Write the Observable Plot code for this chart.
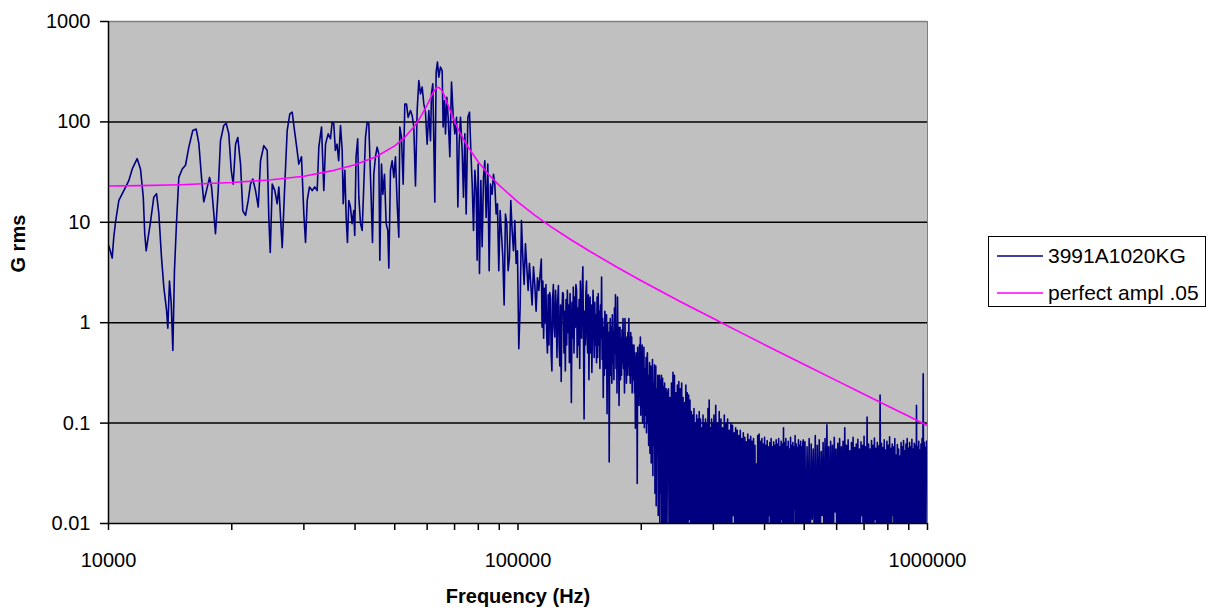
<!DOCTYPE html>
<html><head><meta charset="utf-8">
<script src="https://cdn.jsdelivr.net/npm/d3@7"></script>
<script src="https://cdn.jsdelivr.net/npm/@observablehq/plot@0.6"></script>
<style>
body{margin:0;background:#fff;font-family:Arial,"Liberation Sans",sans-serif;}
#wrap{position:relative;width:1211px;height:610px;overflow:hidden;}
#legend{position:absolute;left:988px;top:236px;width:218px;height:71px;border:1.5px solid #000;box-sizing:border-box;background:#fff;font-size:21px;color:#000;}
#legend .row{position:absolute;left:0;height:24px;}
#legend svg{position:absolute;left:8px;top:10px;}
#legend span{position:absolute;left:59px;top:0;white-space:nowrap;line-height:24px;}
</style></head><body><div id="wrap"></div>
<script>
// ---------- data ----------
const seriesNames = ["3991A1020KG", "perfect ampl .05"];
const seriesColors = ["#000080", "#ff00ff"];

// theoretical curve (kHz, G rms)
const pinkCurve = [[10,23],[12,23.2],[15,23.7],[20,24.9],[25,26.5],[30,28.8],[35,32.5],[40,37.5],[45,45],[50,57.7],[53,70.6],[56,91.5],[58,114],[60,148],[61,170],[62,195],[63,215],[63.5,220],[64,221],[65,209],[66,185],[67,158],[68,135],[70,101],[72,79],[75,58.6],[80,39.8],[85,29.6],[90,23.3],[100,15.9],[110,11.7],[120,9.1],[135,6.67],[150,5.12],[175,3.55],[200,2.62],[250,1.61],[300,1.10],[350,0.796],[400,0.604],[500,0.383],[600,0.265],[700,0.194],[800,0.148],[900,0.117],[1000,0.0946]];

// measured spectrum, low band traced (kHz, G rms)
const blueTrace = [[10.0,5.9],[10.1,5.2],[10.21,4.4],[10.30,7.1],[10.40,10],[10.60,16.5],[10.90,20.7],[11.21,26],[11.43,34],[11.75,43],[11.97,34],[12.16,17.8],[12.26,7.7],[12.36,5.2],[12.50,7.1],[12.66,10],[12.90,17.8],[13.10,19.3],[13.27,12.3],[13.47,4.5],[13.65,2.25],[13.86,1.33],[13.96,0.88],[14.09,2.6],[14.23,1.55],[14.36,0.53],[14.49,3.3],[14.66,10],[14.85,28],[15.14,34],[15.42,37],[15.71,56],[16.06,82],[16.37,85],[16.62,61],[16.87,28],[17.09,16],[17.35,20.7],[17.65,28],[17.85,22.5],[18.08,12.2],[18.25,7.7],[18.53,20.7],[18.77,65],[19.12,92],[19.38,97],[19.67,76],[19.94,33],[20.16,24],[20.43,60],[20.69,70],[21.01,38],[21.28,13],[21.61,11.7],[21.94,16.5],[22.22,24],[22.51,27],[22.86,20.7],[23.21,14.2],[23.51,41],[23.95,58],[24.41,52],[24.63,11.2],[24.83,5.0],[25.11,24],[25.48,20.7],[25.82,15.3],[26.06,22.5],[26.31,11.2],[26.56,5.6],[26.91,20.7],[27.31,82],[27.72,120],[28.09,125],[28.46,82],[28.78,58],[29.16,38],[29.60,45],[29.99,12.2],[30.28,6.3],[30.57,16.5],[30.96,22.5],[31.44,20.7],[31.90,22.5],[32.33,20.7],[32.63,56],[33.13,89],[33.56,20.7],
[33.88,60],[34.39,76],[34.84,68],[35.16,99],[35.49,96],[35.81,52],[36.15,60],[36.48,41],[36.86,92],[37.21,52],[37.42,15.3],[37.77,33],[38.05,11.2],[38.33,6.3],[38.62,16.5],[38.98,14.2],[39.34,9.7],[39.71,13.1],[39.93,7.4],[40.23,45],[40.60,68],[40.86,17.8],[41.25,9.7],[41.63,8.3],[42.03,24],[42.42,70],[42.82,99],[43.22,96],[43.47,45],[43.79,17.8],[44.12,6.3],[44.45,30],[44.87,45],[45.29,56],[45.72,48],[45.98,4.2],[46.41,38],[46.76,19],[47.20,30],[47.65,9.7],[48.09,8.3],[48.37,3.5],[48.82,33],[49.28,41],[49.75,28],[50.21,45],[50.69,15.3],[51.16,7.1],[51.45,89],[51.94,70],[52.43,24],[52.92,151],[53.42,151],[53.92,111],[54.63,130],[55.14,116],[55.66,89],[56.19,23],[56.72,130],[57.25,258],[57.79,190],[58.34,222],[58.89,151],[59.44,125],[60.00,60],[60.57,130],[61.14,65],[61.48,190],[61.94,240],[62.64,15.9],[63.11,313],[63.58,394],[64.06,279],[64.67,351],[65.28,325],[65.65,89],[66.14,163],[66.52,76],[67.02,176],[67.52,111],[68.16,45],[68.81,249],[69.46,116],[70.11,76],[70.78,111],[71.31,14.2],[71.83,60],[72.37,111],[73.05,52],[73.60,17.8],[74.16,76],[74.72,12.1],[75.43,111],[76.14,125],[76.71,52],[77.29,24],[77.87,8.3],[78.46,33],[79.03,21],[79.47,4.2],[79.92,38],[80.52,3.1],[81.13,26],[81.74,5.7],[82.36,28],[82.98,41],[83.60,11.2],[84.39,38],[85.03,3.3],[85.67,24],[86.46,19],[87.11,30],[87.77,24],[88.43,12.1],[89.09,15.3],[89.76,3.3],[90.44,13.1],[91.12,7.7],[91.81,4.5],[92.50,1.5],[93.19,12.1],[93.90,9.7],[94.60,3.3],[95.31,4.5],[96.03,16.5],[96.75,8.3],[97.48,5.2],[98.22,10.4],[98.95,3.9],[99.70,5.2],[100.45,0.55],[101.20,1.4],[101.96,10.4],[102.73,4.5],[103.51,2.4],[104.28,6.1],[105.07,3.6],[105.86,2.1],[106.65,3.9],[107.45,2.4],[108.26,1.5],[109.08,3.6],[109.90,2.4],[110.72,1.3],[111.56,2.8],[112.40,2.1]];

// measured spectrum, evenly spaced FFT lines (start kHz, step kHz, values)
const band1Start = 114, band1Step = 0.5;
const band1Vals = [
  4.3,0.9,2.6,0.7,2.2,1.0,2.4,0.78,0.5,1.9,0.6,2.0,1.8,0.5,0.33,1.7,2.4,0.9,0.72,2.1,
  1.4,0.45,1.6,2.35,0.6,0.37,1.5,0.26,1.2,2.0,1.95,0.5,1.3,0.33,1.7,0.6,2.1,0.8,1.5,0.4,
  1.95,0.9,0.16,1.6,0.7,2.27,0.5,1.8,0.9,2.4,2.1,0.45,1.4,0.6,1.7,0.35,2.6,1.0,0.7,2.2,
  3.6,0.8,0.11,1.3,0.6,2.0,2.6,0.7,0.5,1.9,0.27,1.2,1.8,0.5,1.5,0.32,0.9,2.1,1.1,0.45,
  1.6,0.6,1.2,0.4,1.8,0.45,1.95,0.6,1.3,0.35,1.5,0.7,2.85,0.43,1.1,0.18,0.9,0.3,1.3,0.84,
  0.35,1.2,0.124,1.0,0.4,0.8,0.041,0.67,1.1,0.3,0.9,0.25,1.2,0.4,0.8,0.27,1.4,0.5,1.9,0.35,
  1.0,0.2,1.8,0.5,0.9,0.15,0.57,0.9,0.27,0.7,0.3,0.85,0.4,1.1,0.35,0.6,0.2,1.1,0.37,0.7,
  0.25,0.72,0.3,0.8,0.37,1.1,0.3,0.7,0.25,0.8,0.3,0.72,0.2,0.6,0.45,0.27,0.6,0.2,0.5,0.089,
  0.45,0.15,0.5,0.025,0.57,0.2,0.45,0.15,0.6,0.25,0.72,0.12,0.5,0.2,0.6,0.1,0.45,0.15,0.57,0.09,
  0.35,0.12,0.23,0.45,0.08,0.4,0.5,0.1,0.3,0.06,0.079,0.4,0.05,0.35,0.37,0.04,0.3,0.08,0.43,0.03,
  0.25,0.06,0.2,0.38,0.02,0.3,0.37,0.015,0.22,0.05,0.068,0.3,0.012,0.25,0.039,0.3,0.009,0.27,0.25,0.02,
  0.3,0.006,0.0125,0.28,0.01,0.23,0.23,0.005,0.25,0.015,0.2,0.004,0.22];
const band2Start = 231, band2Step = 1;
const band2Vals = [
  0.006,0.2,0.22,0.004,0.18,0.008,0.25,0.003,0.32,0.005,
  0.3,0.007,0.2,0.004,0.24,0.009,0.26,0.003,0.22,0.006,
  0.25,0.004,0.18,0.008,0.16,0.003,0.24,0.006,0.2,0.005,
  0.19,0.011,0.17,0.004,0.13,0.007,0.12,0.003,0.14,0.005,
  0.1,0.008,0.12,0.004,0.11,0.006,0.13,0.003,0.11,0.009,
  0.09,0.004,0.12,0.006,0.1,0.003,0.11,0.007,0.1,0.005,
  0.14,0.004,0.17,0.008,0.09,0.003,0.11,0.006,0.1,0.005];
const band3Start = 301, band3Step = 1.5;
const band3Vals = [
  0.12,0.005,0.15,0.008,0.1,0.004,0.13,0.006,0.11,0.003,
  0.09,0.007,0.12,0.004,0.1,0.009,0.11,0.005,0.085,0.003,
  0.1,0.006,0.095,0.012,0.08,0.004,0.09,0.007,0.085,0.005,
  0.075,0.003,0.085,0.008,0.07,0.005,0.08,0.004,0.072,0.006,
  0.065,0.01,0.078,0.004,0.068,0.007,0.074,0.003,0.066,0.005,
  0.07,0.006,0.06,0.004,0.039,0.008,0.075,0.003,0.078,0.005,
  0.066,0.009,0.07,0.004,0.062,0.006,0.072,0.003,0.06,0.007,
  0.067,0.005,0.058,0.012,0.064,0.004,0.07,0.006,0.058,0.003,
  0.065,0.008,0.06,0.005,0.068,0.004,0.062,0.007,0.07,0.003,
  0.058,0.006,0.066,0.011,0.062,0.004,0.09,0.005,0.064,0.003,
  0.07,0.007,0.058,0.004,0.066,0.006,0.055,0.003,0.072,0.008,
  0.06,0.005,0.064,0.004,0.058,0.014,0.075,0.003,0.062,0.006,
  0.057,0.005,0.068,0.004,0.06,0.007,0.066,0.003,0.058,0.006,
  0.063,0.068,0.004];
const band4Start = 502, band4Step = 3;
const band4Vals = [0.065,0.005,0.058,0.008,0.07,0.004,0.062,0.011,0.055,0.006,0.075,0.003,0.06,0.007,0.068,0.005,0.052,0.012,0.064,0.004,0.07,0.006,0.096,0.009,0.058,0.003,0.066,0.007,0.06,0.005,0.072,0.013,0.055,0.004,0.063,0.006,0.07,0.008,0.058,0.003,0.066,0.005,0.09,0.007,0.06,0.004,0.068,0.01,0.053,0.005,0.064,0.003,0.072,0.006,0.057,0.009,0.062,0.004,0.069,0.007,0.055,0.005,0.065,0.012,0.06,0.003,0.074,0.006,0.058,0.004,0.115,0.008,0.062,0.005,0.055,0.003,0.067,0.007,0.06,0.005,0.071,0.011,0.056,0.004,0.064,0.006,0.059,0.003,0.19,0.008,0.063,0.005,0.057,0.004,0.068,0.007,0.054,0.003,0.066,0.006,0.06,0.009,0.073,0.004,0.056,0.005,0.062,0.012,0.058,0.003,0.07,0.006,0.048,0.004,0.061,0.007,0.055,0.005,0.047,0.003,0.064,0.008,0.058,0.004,0.067,0.006,0.053,0.005,0.062,0.01,0.07,0.003,0.056,0.006,0.064,0.004,0.058,0.007,0.069,0.005,0.055,0.003,0.063,0.009,0.06,0.004,0.15,0.006,0.058,0.005,0.066,0.003,0.054,0.007,0.062,0.004,0.07,0.006,0.31,0.005,0.064,0.003,0.057,0.007,0.066,0.05];

// axes
const xMajorTicks = [1e4, 1e5, 1e6];
const xMinorTicks = [2e4,3e4,4e4,5e4,6e4,7e4,8e4,9e4,2e5,3e5,4e5,5e5,6e5,7e5,8e5,9e5];
const yTicks = [0.01, 0.1, 1, 10, 100, 1000];
const yGrid = [0.1, 1, 10, 100];
const xTitle = "Frequency (Hz)";
const yTitle = "G rms";

// ---------- build tables ----------
const bandRows = (start, step, vals) => vals.map((v, i) => ({f: (start + step * i) * 1000, v}));
const blue = [
  ...blueTrace.map(([k, v]) => ({f: k * 1000, v})),
  ...bandRows(band1Start, band1Step, band1Vals),
  ...bandRows(band2Start, band2Step, band2Vals),
  ...bandRows(band3Start, band3Step, band3Vals),
  ...bandRows(band4Start, band4Step, band4Vals)
];
const pink = pinkCurve.map(([k, v]) => ({f: k * 1000, v}));

const chart = Plot.plot({
  width: 1211, height: 610,
  marginLeft: 108, marginRight: 284, marginTop: 21, marginBottom: 87,
  x: {type: "log", domain: [1e4, 1e6]},
  y: {type: "log", domain: [0.01, 1000]},
  style: {fontFamily: "Arial, 'Liberation Sans', sans-serif", fontSize: "20px", color: "#000", background: "#fff", overflow: "visible"},
  marks: [
    Plot.frame({fill: "#c0c0c0", stroke: null}),
    Plot.ruleY(yGrid, {stroke: "#000", strokeWidth: 1.5}),
    Plot.line(blue, {x: "f", y: "v", stroke: seriesColors[0], strokeWidth: 1.6, clip: true}),
    Plot.line(pink, {x: "f", y: "v", stroke: seriesColors[1], strokeWidth: 1.6, clip: true}),
    Plot.ruleY([1000], {stroke: "#808080", strokeWidth: 1.5}),
    Plot.ruleX([1e6], {stroke: "#808080", strokeWidth: 1}),
    Plot.ruleX([1e4], {stroke: "#000", strokeWidth: 1.5}),
    Plot.ruleY([0.01], {stroke: "#000", strokeWidth: 1.5}),
    Plot.axisY({ticks: yTicks, tickFormat: d => String(d), tickSize: 8, tickPadding: 10, label: null, strokeWidth: 1.5}),
    Plot.axisX({ticks: xMajorTicks, tickFormat: d => String(d), tickSize: 7, tickPadding: 22, label: null, strokeWidth: 1.5}),
    Plot.axisX({ticks: xMinorTicks, tickFormat: () => "", tickSize: 7, label: null, strokeWidth: 1.5}),
    Plot.text([yTitle], {frameAnchor: "left", dx: -90, rotate: -90, fontWeight: "bold", fontSize: 20}),
    Plot.text([xTitle], {frameAnchor: "bottom", dy: 79, fontWeight: "bold", fontSize: 20})
  ]
});
const wrap = document.getElementById("wrap");
wrap.appendChild(chart);

// legend (HTML, to the right of the plot)
const legend = document.createElement("div");
legend.id = "legend";
seriesNames.forEach((name, i) => {
  const row = document.createElement("div");
  row.className = "row";
  row.style.top = (7 + i * 37) + "px";
  row.style.width = "100%";
  row.innerHTML = `<svg width="48" height="4"><line x1="0" x2="46" y1="2" y2="2" stroke="${seriesColors[i]}" stroke-width="1.6"/></svg><span>${name}</span>`;
  legend.appendChild(row);
});
wrap.appendChild(legend);
</script>
</body></html>
